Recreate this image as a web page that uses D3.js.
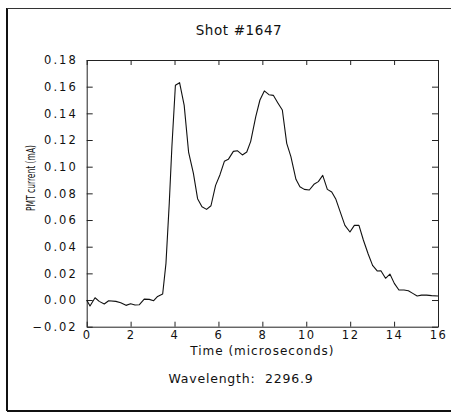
<!DOCTYPE html>
<html><head><meta charset="utf-8">
<script src="https://cdn.jsdelivr.net/npm/d3@7/dist/d3.min.js"></script>
<style>
body{margin:0;background:#fff;}
text{font-family:"DejaVu Sans",sans-serif;fill:#111;}
</style></head>
<body><svg id="c" width="451" height="413"></svg>
<script>
const title = "Shot #1647";
const xLabel = "Time (microseconds)";
const yLabel = "PMT current (mA)";
const footer = "Wavelength:  2296.9";
const xTicks = [0, 2, 4, 6, 8, 10, 12, 14, 16];
const yTicks = [-0.02, 0.00, 0.02, 0.04, 0.06, 0.08, 0.10, 0.12, 0.14, 0.16, 0.18];
const time = [0.00,0.15,0.38,0.57,0.80,1.00,1.33,1.55,1.79,2.00,2.20,2.40,2.62,2.85,3.05,3.23,3.46,3.61,3.76,3.88,
  4.04,4.23,4.44,4.64,4.86,5.05,5.25,5.46,5.66,5.87,6.07,6.27,6.45,6.68,6.86,7.09,7.29,7.47,7.70,7.89,
  8.09,8.30,8.50,8.70,8.91,9.11,9.30,9.53,9.71,9.91,10.14,10.35,10.55,10.75,10.96,11.16,11.35,11.57,11.76,11.99,
  12.19,12.40,12.60,12.82,13.02,13.23,13.40,13.61,13.81,14.01,14.22,14.45,14.65,14.85,15.05,15.25,15.48,15.71,16.00];
const current = [0.000,-0.0045,0.0017,-0.001,-0.003,-0.0005,-0.001,-0.002,-0.004,-0.0028,-0.0037,-0.0035,0.0007,0.0005,-0.0005,0.0027,0.0045,0.0275,0.0725,0.115,
  0.161,0.163,0.146,0.111,0.095,0.076,0.070,0.068,0.0707,0.086,0.094,0.104,0.1055,0.1115,0.112,0.1088,0.111,0.119,0.1375,0.150,
  0.1568,0.154,0.1535,0.148,0.1425,0.1175,0.1075,0.0905,0.085,0.083,0.0825,0.0868,0.0888,0.0935,0.083,0.081,0.0755,0.065,0.056,0.051,
  0.056,0.056,0.045,0.0345,0.026,0.0218,0.022,0.0163,0.0195,0.0125,0.0075,0.0075,0.007,0.005,0.003,0.0037,0.0037,0.0033,0.003];

const svg = d3.select("#c");
const L = 86.7, R = 438, T = 60, B = 326.7;
const x = d3.scaleLinear().domain([0, 16]).range([L, R]);
const y = d3.scaleLinear().domain([-0.02, 0.18]).range([B, T]);

// page frame
svg.append("line").attr("x1",7).attr("x2",7).attr("y1",8).attr("y2",411).attr("stroke","#111").attr("stroke-width",2);
svg.append("line").attr("x1",7).attr("x2",451).attr("y1",8.5).attr("y2",8.5).attr("stroke","#333").attr("stroke-width",1);
svg.append("line").attr("x1",7).attr("x2",451).attr("y1",411).attr("y2",411).attr("stroke","#111").attr("stroke-width",2);

const fmt = d3.format(".2f");
const axStyle = g => { g.select(".domain").attr("stroke","#222"); g.selectAll(".tick line").attr("stroke","#222"); };

// bottom axis (ticks inward)
svg.append("g").attr("transform",`translate(0,${B})`)
  .call(d3.axisBottom(x).tickValues(xTicks).tickSizeInner(-5).tickSizeOuter(0).tickPadding(4).tickFormat(d3.format("d")))
  .call(axStyle)
  .call(g => g.selectAll("text").attr("font-size",11.5).attr("letter-spacing","1.5px").attr("fill","#111"));
// top axis
svg.append("g").attr("transform",`translate(0,${T})`)
  .call(d3.axisTop(x).tickValues(xTicks).tickSizeInner(-5).tickSizeOuter(0).tickFormat(""))
  .call(axStyle);
// left axis
svg.append("g").attr("transform",`translate(${L},0)`)
  .call(d3.axisLeft(y).tickValues(yTicks).tickSizeInner(-6).tickSizeOuter(0).tickPadding(9).tickFormat(d => d < 0 ? "\u2212" + fmt(-d) : fmt(d)))
  .call(axStyle)
  .call(g => g.selectAll("text").attr("font-size",11.5).attr("letter-spacing","2px").attr("fill","#111"));
// right axis
svg.append("g").attr("transform",`translate(${R},0)`)
  .call(d3.axisRight(y).tickValues(yTicks).tickSizeInner(-6).tickSizeOuter(0).tickFormat(""))
  .call(axStyle);

// data line
const pts = time.map((t,i) => [t, current[i]]);
svg.append("path").datum(pts)
  .attr("fill","none").attr("stroke","#111").attr("stroke-width",1.1).attr("stroke-linejoin","round")
  .attr("d", d3.line().x(d => x(d[0])).y(d => y(d[1])));

// texts
svg.append("text").attr("x",239).attr("y",35).attr("text-anchor","middle")
  .attr("font-size",13.5).attr("letter-spacing","0.6px").text(title);
svg.append("text").attr("x",(L+R)/2).attr("y",355).attr("text-anchor","middle")
  .attr("font-size",12).attr("letter-spacing","1px").text(xLabel);
svg.append("text").attr("x",241).attr("y",383).attr("text-anchor","middle")
  .attr("font-size",12.5).attr("letter-spacing","0.8px").attr("xml:space","preserve").style("white-space","pre").text(footer);
svg.append("text").attr("transform","translate(35,178) rotate(-90)").attr("text-anchor","middle")
  .attr("font-size",13).attr("textLength",66).attr("lengthAdjust","spacingAndGlyphs").text(yLabel);
</script></body></html>
